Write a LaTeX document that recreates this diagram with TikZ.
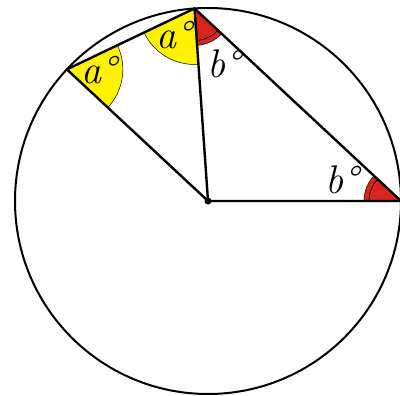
\documentclass[tikz,border=0pt]{standalone}
\usepackage{fontspec}
\usetikzlibrary{angles}

\definecolor{angyellow}{RGB}{255,242,0}
\definecolor{angred}{RGB}{218,37,28}

\begin{document}
\begin{tikzpicture}[
    x=1pt, y=1pt,
    chord/.style={line width=2.4pt, line cap=round, line join=round},
    yellowang/.style={draw=black, line width=0.5pt, fill=angyellow, angle radius=56pt},
    redang/.style={draw=black, line width=0.5pt, fill=angred, angle radius=37pt},
    innerarc/.style={draw=black, line width=0.6pt, angle radius=32pt},
    lbl/.style={font=\fontsize{40}{40}\selectfont\itshape, inner sep=0pt}
]
\useasboundingbox (0,0) rectangle (400,396);

\coordinate (O) at (208,195);
\coordinate (A) at ([shift={(137:193)}]O);
\coordinate (B) at ([shift={(94:193)}]O);
\coordinate (C) at ([shift={(0:193)}]O);

% angle sectors
\pic[yellowang] {angle = O--A--B};
\pic[yellowang] {angle = A--B--O};
\pic[redang] {angle = O--B--C};
\pic[innerarc] {angle = O--B--C};
\pic[redang] {angle = B--C--O};
\pic[innerarc] {angle = B--C--O};

\draw[line width=2pt] (O) circle (193);
\draw[chord] (A) -- (O) -- (B) -- cycle;
\draw[chord] (B) -- (C) -- (O);
\fill (O) circle (3.5);

\node[lbl] (aA) at (99,326) {a°};
\node[lbl] (aB) at (174,361) {a°};
\node[lbl] (bB) at (224,332) {b°};
\node[lbl] (bC) at (342,216) {b°};

\end{tikzpicture}
\end{document}
